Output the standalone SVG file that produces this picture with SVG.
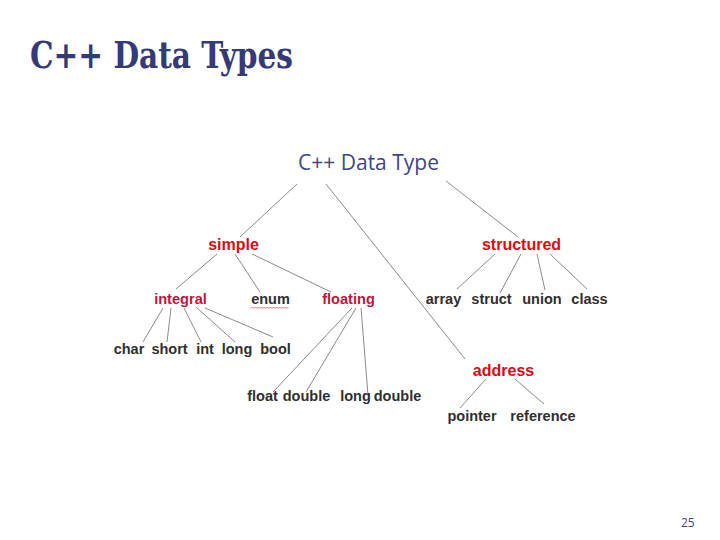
<svg xmlns="http://www.w3.org/2000/svg" width="720" height="540" viewBox="0 0 720 540">
  <style>
    .title { font-family: "DejaVu Serif Condensed", "DejaVu Serif", serif; font-weight: bold; fill: #353a76; }
    .root { font-family: "Open Sans", "Noto Sans", sans-serif; font-size: 21px; fill: #3d4688; }
    .cat { font-family: "Liberation Sans", Arial, sans-serif; font-weight: bold; font-size: 16px; fill: #dd0a12; text-anchor: middle; }
    .sub { font-family: "Liberation Sans", Arial, sans-serif; font-weight: bold; font-size: 14.6px; fill: #c0143c; text-anchor: middle; }
    .leaf { font-family: "Liberation Sans", Arial, sans-serif; font-weight: bold; font-size: 14.5px; fill: #2f2f2f; text-anchor: middle; }
    .edges line { stroke: #8a8a8a; stroke-width: 1; }
    .page { font-family: "Open Sans", "Noto Sans", sans-serif; font-size: 12px; fill: #3d4688; }
  </style>

  <rect width="720" height="540" fill="#ffffff"/>

  <text class="title" x="30" y="68" font-size="37" textLength="263" lengthAdjust="spacingAndGlyphs">C++ Data Types</text>

  <!-- connectors -->
  <g class="edges">
    <line x1="297" y1="184" x2="240" y2="237"/>
    <line x1="326" y1="184" x2="465" y2="359"/>
    <line x1="446" y1="181" x2="518" y2="237"/>

    <line x1="217" y1="254" x2="176" y2="289"/>
    <line x1="235" y1="254" x2="260" y2="292"/>
    <line x1="252" y1="254" x2="331" y2="292"/>

    <line x1="163" y1="308" x2="143" y2="342"/>
    <line x1="171" y1="308" x2="167" y2="342"/>
    <line x1="184" y1="308" x2="201" y2="342"/>
    <line x1="196" y1="307" x2="235" y2="342"/>
    <line x1="205" y1="308" x2="273" y2="337"/>

    <line x1="352" y1="308" x2="273" y2="392"/>
    <line x1="356" y1="308" x2="306" y2="392"/>
    <line x1="361" y1="308" x2="368" y2="395"/>

    <line x1="495" y1="254" x2="457" y2="289"/>
    <line x1="521" y1="254" x2="500" y2="293"/>
    <line x1="537" y1="254" x2="545" y2="290"/>
    <line x1="550" y1="254" x2="587" y2="289"/>

    <line x1="486" y1="379" x2="460" y2="408"/>
    <line x1="515" y1="379" x2="544" y2="404"/>
  </g>

  <g id="root">
    <text class="root" x="298" y="170" textLength="141" lengthAdjust="spacingAndGlyphs">C++ Data Type</text>
  </g>

  <g id="simple"><text class="cat" x="233.5" y="250">simple</text></g>
  <g id="structured"><text class="cat" x="521.5" y="250">structured</text></g>
  <g id="address"><text class="cat" x="503.5" y="376">address</text></g>

  <g id="integral"><text class="sub" x="180.5" y="304">integral</text></g>
  <g id="enum">
    <text class="leaf" x="270.5" y="304">enum</text>
    <!-- wavy underline under "enum" -->
    <path d="M251 308.5 l1.5 -1.5 l1.5 1.5 l1.5 -1.5 l1.5 1.5 l1.5 -1.5 l1.5 1.5 l1.5 -1.5 l1.5 1.5 l1.5 -1.5 l1.5 1.5 l1.5 -1.5 l1.5 1.5 l1.5 -1.5 l1.5 1.5 l1.5 -1.5 l1.5 1.5 l1.5 -1.5 l1.5 1.5 l1.5 -1.5 l1.5 1.5 l1.5 -1.5 l1.5 1.5 l1.5 -1.5 l1.5 1.5 l1.5 -1.5" fill="none" stroke="#e05050" stroke-width="0.8"/>
  </g>
  <g id="floating"><text class="sub" x="348.5" y="304">floating</text></g>

  <g id="array"><text class="leaf" x="443.5" y="304">array</text></g>
  <g id="struct"><text class="leaf" x="491.5" y="304">struct</text></g>
  <g id="union"><text class="leaf" x="542" y="304">union</text></g>
  <g id="class"><text class="leaf" x="589.5" y="304">class</text></g>

  <g id="char"><text class="leaf" x="129" y="354">char</text></g>
  <g id="short"><text class="leaf" x="169.5" y="354">short</text></g>
  <g id="int"><text class="leaf" x="205" y="354">int</text></g>
  <g id="long"><text class="leaf" x="237" y="354">long</text></g>
  <g id="bool"><text class="leaf" x="275.5" y="354">bool</text></g>

  <g id="float"><text class="leaf" x="262.5" y="401">float</text></g>
  <g id="double"><text class="leaf" x="306.5" y="401">double</text></g>
  <g id="long-double">
    <text class="leaf" x="355.5" y="401">long</text>
    <text class="leaf" x="397.5" y="401">double</text>
  </g>

  <g id="pointer"><text class="leaf" x="472" y="421">pointer</text></g>
  <g id="reference"><text class="leaf" x="543" y="421">reference</text></g>

  <text class="page" x="681" y="527">25</text>
</svg>
